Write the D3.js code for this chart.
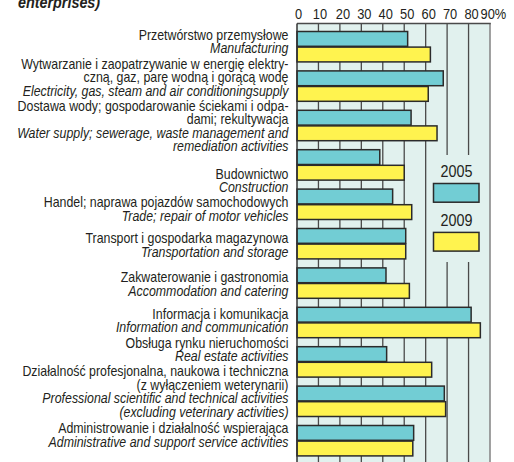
<!DOCTYPE html>
<html><head><meta charset="utf-8">
<script src="https://cdn.jsdelivr.net/npm/d3@7"></script>
<style>
body{margin:0;background:#fff;overflow:hidden;}
svg{display:block;}
text{font-family:"Liberation Sans",Arial,Helvetica,sans-serif;fill:#231f20;}
</style>
</head><body><svg id="c" width="514" height="462"></svg>
<script>
// ---------- DATA ----------
const categories = ["Manufacturing","Electricity","Water","Construction","Trade","Transport",
  "Accommodation","Information","RealEstate","Professional","Administrative"];
const labelsPL = [
  ["Przetwórstwo przemysłowe"],
  ["Wytwarzanie i zaopatrzywanie w energię elektry-","czną, gaz, parę wodną i gorącą wodę"],
  ["Dostawa wody; gospodarowanie ściekami i odpa-","dami; rekultywacja"],
  ["Budownictwo"],
  ["Handel; naprawa pojazdów samochodowych"],
  ["Transport i gospodarka magazynowa"],
  ["Zakwaterowanie i gastronomia"],
  ["Informacja i komunikacja"],
  ["Obsługa rynku nieruchomości"],
  ["Działalność profesjonalna, naukowa i techniczna","(z wyłączeniem weterynarii)"],
  ["Administrowanie i działalność wspierająca"]
];
const labelsEN = [
  ["Manufacturing"],
  ["Electricity, gas, steam and air conditioningsupply"],
  ["Water supply; sewerage, waste management and","remediation activities"],
  ["Construction"],
  ["Trade; repair of motor vehicles"],
  ["Transportation and storage"],
  ["Accommodation and catering"],
  ["Information and communication"],
  ["Real estate activities"],
  ["Professional scientific and technical activities","(excluding veterinary activities)"],
  ["Administrative and support service activities"]
];
const seriesNames = ["2005","2009"];
const values2005 = [51.6, 68.2, 53.2, 38.6, 44.6, 50.7, 41.5, 81.2, 41.8, 68.7, 54.4];
const values2009 = [62.2, 61.2, 65.3, 50.0, 53.5, 50.7, 52.4, 85.5, 62.8, 69.3, 54.0];
const tickValues = [0,10,20,30,40,50,60,70,80,90];
const tickLabels = ["0","10","20","30","40","50","60","70","80","90%"];
const titleText = "enterprises)";

// ---------- LAYOUT ----------
const colors = {"2005":"#72cdd4","2009":"#fff34f"};
const svg = d3.select("#c");
const plotL = 297, plotR = 490, plotT = 23.5, plotB = 475;
const x = d3.scaleLinear().domain([0,90]).range([plotL, plotR]);
const y = d3.scaleBand().domain(categories).range([27, 27 + categories.length*39.4])
  .paddingInner(0.208).paddingOuter(0.104);
const ys = d3.scaleBand().domain(seriesNames).range([0, y.bandwidth()]).padding(0);

// condensed text helper
function ctext(parent, tx, ty, sx, str, size, anchor, extra){
  const t = parent.append("text").attr("transform",`translate(${tx},${ty}) scale(${sx},1)`)
    .attr("text-anchor",anchor||"start").style("font-size",size+"px").text(str);
  if (extra) extra(t);
  return t;
}

// title fragment
ctext(svg, 18, 8, 0.87, titleText, 16.5, "start",
  t=>t.style("font-weight","bold").style("font-style","italic"));

// plot background
svg.append("rect").attr("x",plotL).attr("y",plotT).attr("width",plotR-plotL).attr("height",plotB-plotT)
  .attr("fill","#e1f1ee");

// gridlines
svg.append("g").selectAll("line").data(tickValues.filter(d=>d>0 && d<90)).join("line")
  .attr("x1",d=>x(d)).attr("x2",d=>x(d)).attr("y1",plotT).attr("y2",plotB)
  .attr("stroke","#4a4a4a").attr("stroke-width",1.3);

// legend background (interrupts gridlines)
svg.append("rect").attr("x",429).attr("y",155).attr("width",plotR-429).attr("height",107)
  .attr("fill","#e1f1ee");

// right border & top
svg.append("line").attr("x1",plotR).attr("x2",plotR).attr("y1",plotT).attr("y2",plotB)
  .attr("stroke","#8a8a8a").attr("stroke-width",1.6);
svg.append("line").attr("x1",plotL).attr("x2",plotR+0.8).attr("y1",plotT).attr("y2",plotT)
  .attr("stroke","#4a4a4a").attr("stroke-width",1.4);

// axis (top)
const axis = d3.axisTop(x).tickValues(tickValues).tickSize(0)
  .tickFormat((d,i)=>tickLabels[i]);
const ax = svg.append("g").attr("transform",`translate(0,${18.5})`).call(axis);
ax.select(".domain").remove();
ax.selectAll("text")
  .attr("x",null).attr("y",null).attr("dy",null)
  .attr("transform",d=>`translate(${d===90?-10:(d<=10?1:2.5)},0) scale(0.83,1)`)
  .attr("text-anchor",d=>d===90?"start":"middle")
  .style("font-size","15.5px").attr("fill","#231f20");
ax.attr("font-family",null).attr("font-size",null);

// bars
const rows = categories.map((c,i)=>({c, v:[{s:"2005",v:values2005[i]},{s:"2009",v:values2009[i]}]}));
const g = svg.append("g").selectAll("g").data(rows).join("g")
  .attr("transform",d=>`translate(0,${y(d.c)})`);
g.selectAll("rect").data(d=>d.v).join("rect")
  .attr("x",x(0)).attr("y",d=>ys(d.s)+0.4)
  .attr("width",d=>x(d.v)-x(0)).attr("height",ys.bandwidth()-0.8)
  .attr("fill",d=>colors[d.s]).attr("stroke","#2b2b2b").attr("stroke-width",1.5);

// left axis line
svg.append("line").attr("x1",plotL).attr("x2",plotL).attr("y1",plotT).attr("y2",plotB)
  .attr("stroke","#333").attr("stroke-width",1.5);

// category labels
const labelOffset = [9, -1.7, 1, 29.3, 18.7, 15.3, 14.7, 12, 1.7, -9.3, 8.3];
const lineH = 13.4;
const labSize = 14;
const lab = svg.append("g");
// measure reference line to set condensation
const probe = lab.append("text").style("font-size",labSize+"px").text(labelsPL[0][0]);
const pw = probe.node().getComputedTextLength();
probe.remove();
const labSx = pw > 0 ? 150/pw : 0.885;
categories.forEach((c,i)=>{
  const lines = labelsPL[i].map(t=>({t,it:false})).concat(labelsEN[i].map(t=>({t,it:true})));
  lines.forEach((L,j)=>{
    ctext(lab, 288.5, y(c)+labelOffset[i]+j*lineH, labSx, L.t, labSize, "end",
      t=>t.style("font-style",L.it?"italic":"normal"));
  });
});

// legend
const leg = svg.append("g");
seriesNames.forEach((s,i)=>{
  ctext(leg, 456.5, 177.3 + i*48.7, 0.87, s, 16.5, "middle");
  leg.append("rect").attr("x",433.5).attr("y",183.5 + i*48.9).attr("width",45.5).attr("height",18.7)
    .attr("fill",colors[s]).attr("stroke","#2b2b2b").attr("stroke-width",1.5);
});
</script>
</body></html>
